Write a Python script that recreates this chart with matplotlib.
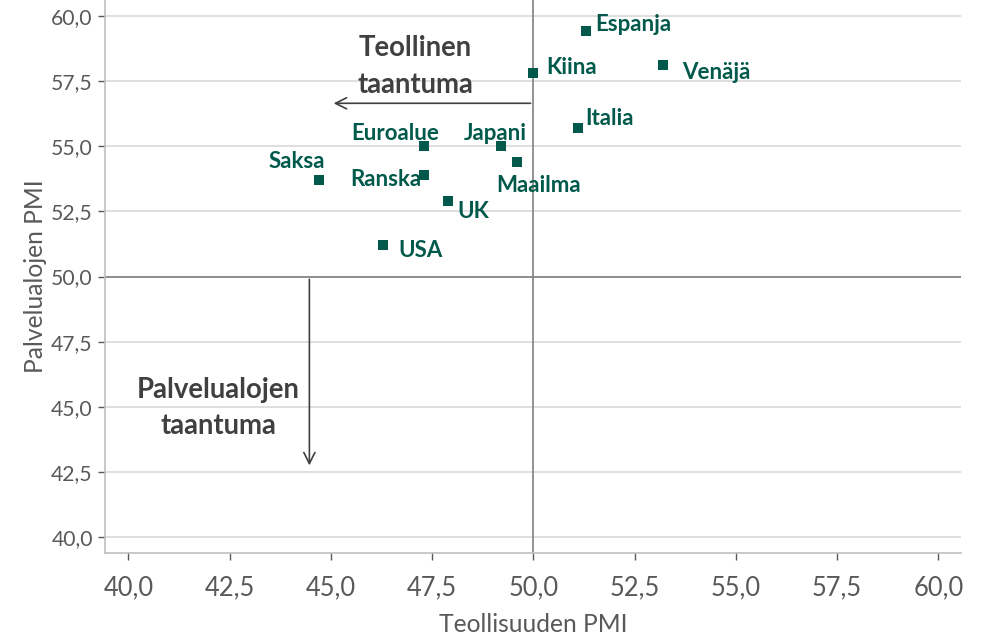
import matplotlib
matplotlib.use("Agg")
import matplotlib.pyplot as plt
from matplotlib.ticker import FuncFormatter

countries = ["Espanja", "Kiina", "Venäjä", "Italia", "Euroalue", "Japani",
             "Maailma", "Saksa", "Ranska", "UK", "USA"]
manufacturing_pmi = [51.3, 50.0, 53.2, 51.1, 47.3, 49.2, 49.6, 44.7, 47.3, 47.9, 46.3]
services_pmi = [59.4, 57.8, 58.1, 55.7, 55.0, 55.0, 54.4, 53.7, 53.9, 52.9, 51.2]
ticks = [40.0, 42.5, 45.0, 47.5, 50.0, 52.5, 55.0, 57.5, 60.0]

# label offsets in pixels and alignment (style only)
label_style = {
    "Espanja": (9, 7, "left"),
    "Kiina": (13, 6, "left"),
    "Venäjä": (19, -7, "left"),
    "Italia": (7, 9, "left"),
    "Euroalue": (-29, 13, "center"),
    "Japani": (-6, 13, "center"),
    "Maailma": (21, -24, "center"),
    "Saksa": (-22, 18, "center"),
    "Ranska": (-3, -5, "right"),
    "UK": (9, -11, "left"),
    "USA": (15, -5, "left"),
}

plt.rcParams['font.family'] = ['Lato', 'DejaVu Sans']
GREEN = "#00594a"
GRAY_TXT = "#595959"

fig = plt.figure(figsize=(9.82, 6.36), dpi=100)
ax = fig.add_axes([0.1072, 0.1305, 0.9786 - 0.1072, 1 - 0.1305])

ax.set_xlim(39.43, 60.56)
ax.set_ylim(39.4, 60.6)
ax.set_xticks(ticks)
ax.set_yticks(ticks)
fmt = FuncFormatter(lambda v, p: f"{v:.1f}".replace(".", ","))
ax.xaxis.set_major_formatter(fmt)
ax.yaxis.set_major_formatter(fmt)

ax.grid(axis="y", color="#d9d9d9", linewidth=1.2, zorder=0)
ax.set_axisbelow(True)
for s in ["top", "right"]:
    ax.spines[s].set_visible(False)
for s in ["left", "bottom"]:
    ax.spines[s].set_color("#bfbfbf")
    ax.spines[s].set_linewidth(1.2)

ax.tick_params(axis="x", colors=GRAY_TXT, labelsize=18.4, length=5, width=1, pad=11)
ax.tick_params(axis="y", colors=GRAY_TXT, labelsize=15.2, length=5, width=1, pad=4)
for t in ax.get_xticklines() + ax.get_yticklines():
    t.set_color("#8c8c8c")

ax.axvline(50, color="#808080", linewidth=1.2, zorder=1)
ax.axhline(50, color="#808080", linewidth=1.2, zorder=1)

ax.scatter(manufacturing_pmi, services_pmi, marker="s", s=48, color=GREEN, zorder=3, linewidths=0)

for name, x, y in zip(countries, manufacturing_pmi, services_pmi):
    dx, dy, ha = label_style[name]
    ax.annotate(name, (x, y), xytext=(dx, dy), textcoords="offset pixels",
                ha=ha, va="center", fontsize=16, fontweight="bold", color=GREEN, zorder=4)

ax.set_xlabel("Teollisuuden PMI", fontsize=17.7, color=GRAY_TXT, labelpad=9)
ax.set_ylabel("Palvelualojen PMI", fontsize=17.7, color=GRAY_TXT, labelpad=3)

ax.annotate("", xy=(45.0, 56.64), xytext=(50.0, 56.64),
            arrowprops=dict(arrowstyle="->", color="#404040", lw=1.2, mutation_scale=20))
ax.annotate("", xy=(44.47, 42.65), xytext=(44.47, 50.0),
            arrowprops=dict(arrowstyle="->", color="#404040", lw=1.2, mutation_scale=20))

ax.text(47.09, 58.05, "Teollinen\ntaantuma", ha="center", va="center", fontsize=19.8,
        fontweight="bold", color="#404040", linespacing=1.5)
ax.text(42.22, 44.95, "Palvelualojen\ntaantuma", ha="center", va="center", fontsize=19.8,
        fontweight="bold", color="#404040", linespacing=1.5)

fig.savefig("out.png", dpi=100)
